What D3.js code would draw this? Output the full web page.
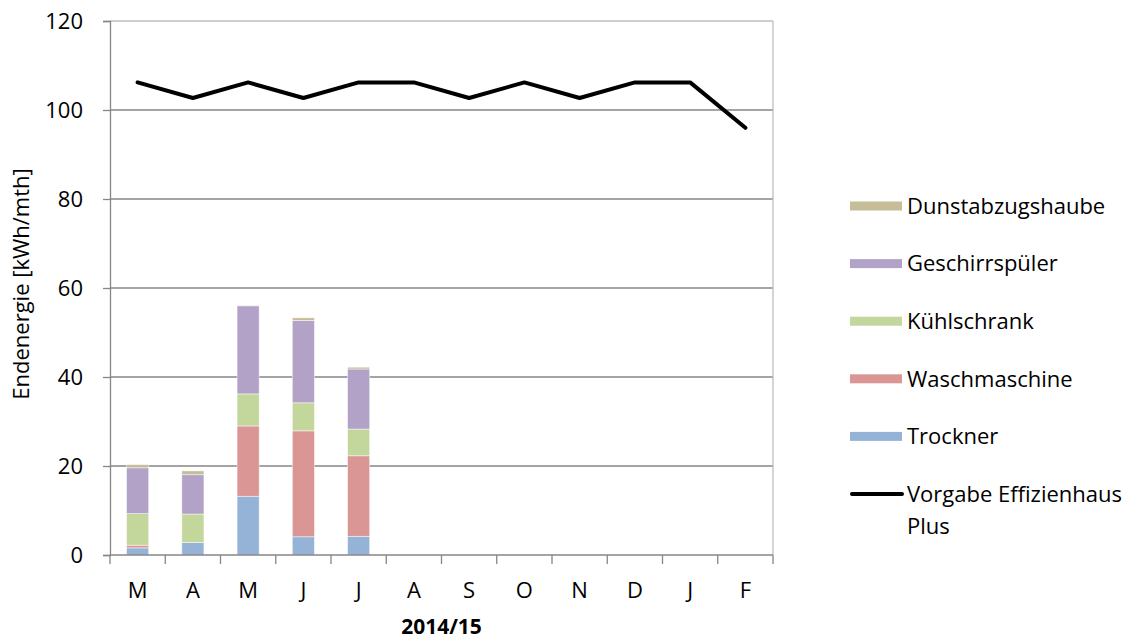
<!DOCTYPE html>
<html><head><meta charset="utf-8">
<script src="https://cdn.jsdelivr.net/npm/d3@7"></script>
<style>body{margin:0;background:#fff;} text{font-family:"Open Sans",sans-serif;}</style>
</head><body><svg id="c" width="1142" height="643"></svg>
<script>
const months = ["M","A","M","J","J","A","S","O","N","D","J","F"];
const trockner =      [1.6, 2.8, 13.2, 4.1, 4.2, 0,0,0,0,0,0,0];
const waschmaschine = [0.6, 0.0, 15.8, 23.8, 18.1, 0,0,0,0,0,0,0];
const kuehlschrank =  [7.1, 6.4, 7.2, 6.3, 6.0, 0,0,0,0,0,0,0];
const geschirr =      [10.3, 8.85, 19.8, 18.5, 13.5, 0,0,0,0,0,0,0];
const dunst =         [0.7, 0.85, 0.1, 0.6, 0.4, 0,0,0,0,0,0,0];
const vorgabe = [106.2, 102.7, 106.2, 102.7, 106.2, 106.2, 102.7, 106.2, 102.7, 106.2, 106.2, 96];
const yTicks = [0,20,40,60,80,100,120];
const seriesNames = ["Trockner","Waschmaschine","Kühlschrank","Geschirrspüler","Dunstabzugshaube"];
const seriesColors = ["#95B3D7","#D99694","#C3D69B","#B3A2C7","#C4BD97"];
const seriesData = [trockner, waschmaschine, kuehlschrank, geschirr, dunst];
const xTitle = "2014/15";
const yTitle = "Endenergie [kWh/mth]";
const lineName = ["Vorgabe Effizienhaus", "Plus"];

const svg = d3.select("#c");
const L=110, R=773, T=21, B=555;
const x = d3.scaleBand().domain(d3.range(months.length)).range([L,R]).paddingInner(0.6).paddingOuter(0.3);
const xb = d3.scaleBand().domain(d3.range(months.length)).range([L,R]);
const y = d3.scaleLinear().domain([0,120]).range([B,T]);
const fs = 22;

// gridlines
svg.append("g").selectAll("line").data(yTicks.filter(d=>d>0 && d<120)).join("line")
  .attr("x1",L).attr("x2",R).attr("y1",d=>y(d)).attr("y2",d=>y(d))
  .attr("stroke","#868686").attr("stroke-width",1.3);
// plot border top/right
svg.append("line").attr("x1",L).attr("x2",R).attr("y1",T).attr("y2",T).attr("stroke","#BFBFBF").attr("stroke-width",1.3);
svg.append("line").attr("x1",R).attr("x2",R).attr("y1",T).attr("y2",B).attr("stroke","#BFBFBF").attr("stroke-width",1.3);

// stacked bars
const table = months.map((m,i)=>{const o={i}; seriesNames.forEach((s,k)=>o[s]=seriesData[k][i]); return o;});
const stack = d3.stack().keys(seriesNames)(table);
svg.append("g").selectAll("g").data(stack).join("g")
  .attr("fill",(d,k)=>seriesColors[k])
  .selectAll("rect").data(d=>d.filter(p=>p[1]-p[0]>0)).join("rect")
  .attr("x",d=>x(d.data.i)).attr("width",x.bandwidth())
  .attr("y",d=>y(d[1])).attr("height",d=>y(d[0])-y(d[1]))
  .attr("stroke","#fff").attr("stroke-opacity",0.6).attr("stroke-width",0.8);

// y axis
const ya = d3.axisLeft(y).tickValues(yTicks).tickSize(7).tickPadding(20);
const gy = svg.append("g").attr("transform",`translate(${L},0)`).call(ya);
gy.select(".domain").attr("stroke","#868686").attr("stroke-width",1.3);
gy.selectAll(".tick line").attr("stroke","#868686").attr("stroke-width",1.3);
gy.selectAll("text").attr("font-size",fs).attr("fill","#000").style("font-family","'Open Sans',sans-serif");

// x axis
const gx = svg.append("g").attr("transform",`translate(0,${B})`);
gx.append("line").attr("x1",L).attr("x2",R).attr("stroke","#868686").attr("stroke-width",1.3);
gx.selectAll(".tk").data(d3.range(months.length+1)).join("line").attr("class","tk")
  .attr("x1",d=>L+d*xb.step()).attr("x2",d=>L+d*xb.step()).attr("y1",0).attr("y2",9)
  .attr("stroke","#868686").attr("stroke-width",1.3);
gx.selectAll("text").data(months).join("text")
  .attr("x",(d,i)=>xb(i)+xb.bandwidth()/2).attr("y",43).attr("text-anchor","middle")
  .attr("font-size",fs).text(d=>d);

// line
const line = d3.line().x((d,i)=>xb(i)+xb.bandwidth()/2).y(d=>y(d));
svg.append("path").datum(vorgabe).attr("d",line).attr("fill","none")
  .attr("stroke","#000").attr("stroke-width",4).attr("stroke-linejoin","round").attr("stroke-linecap","round");

// titles
svg.append("text").attr("x",(L+R)/2).attr("y",634).attr("text-anchor","middle")
  .attr("font-size",21).attr("font-weight","bold").text(xTitle);
svg.append("text").attr("transform",`translate(29,284) rotate(-90)`).attr("text-anchor","middle")
  .attr("font-size",fs).text(yTitle);

// legend
const legendOrder = [4,3,2,1,0];
const lg = svg.append("g");
legendOrder.forEach((k,j)=>{
  const cy = 206 + j*57.6;
  lg.append("rect").attr("x",850).attr("y",cy-4.5).attr("width",52).attr("height",9).attr("fill",seriesColors[k]);
  lg.append("text").attr("x",907).attr("y",cy).attr("dy","0.35em").attr("font-size",fs).text(seriesNames[k]);
});
const ly = 206 + 5*57.6;
lg.append("line").attr("x1",852).attr("x2",902).attr("y1",ly).attr("y2",ly).attr("stroke","#000").attr("stroke-width",4).attr("stroke-linecap","round");
lg.append("text").attr("x",907).attr("y",ly).attr("dy","0.35em").attr("font-size",fs).text(lineName[0]);
lg.append("text").attr("x",907).attr("y",ly+32).attr("dy","0.35em").attr("font-size",fs).text(lineName[1]);
</script></body></html>
